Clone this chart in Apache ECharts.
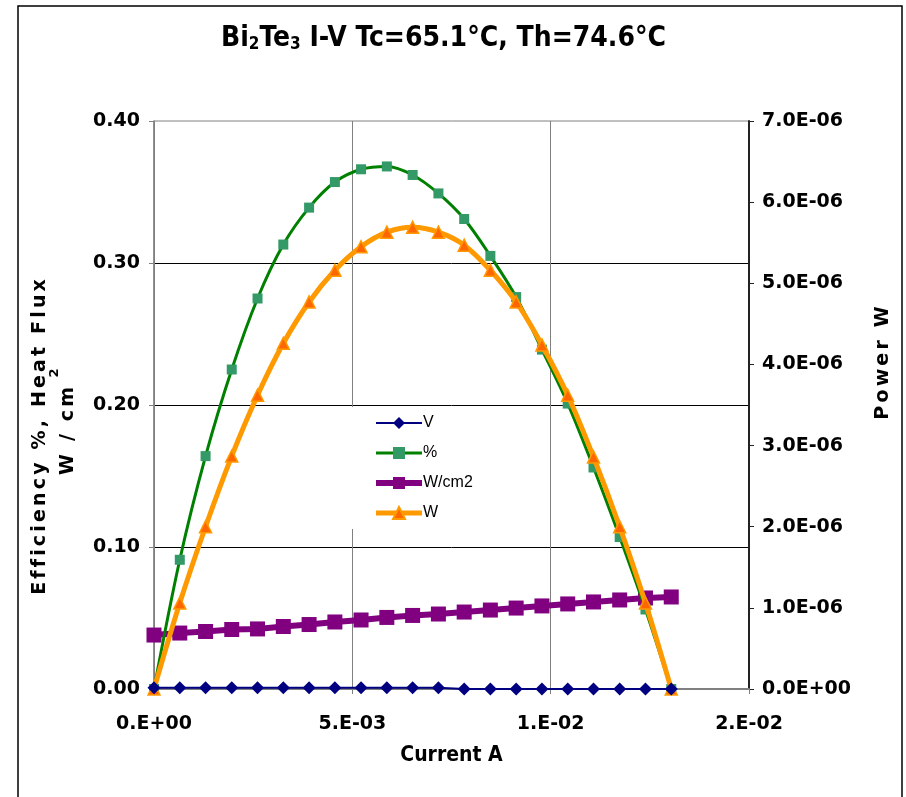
<!DOCTYPE html>
<html>
<head>
<meta charset="utf-8">
<script src="https://cdn.jsdelivr.net/npm/echarts@6/dist/echarts.min.js"></script>
<style>
  html, body { margin: 0; padding: 0; background: #fff; }
  #main { width: 906px; height: 797px; }
</style>
</head>
<body>
<div id="main"></div>
<script>
// current (A) for each measurement
var current = [0, 0.00065, 0.0013, 0.00196, 0.00261, 0.00326, 0.00391, 0.00456, 0.00522, 0.00587, 0.00652,
  0.00717, 0.00782, 0.00848, 0.00913, 0.00978, 0.01043, 0.01108, 0.01174, 0.01239, 0.01304];
var voltage = [0.0009, 0.0009, 0.0009, 0.0009, 0.0009, 0.0009, 0.0009, 0.0009, 0.0009, 0.0009, 0.0009,
  0.0009, 0, 0, 0, 0, 0, 0, 0, 0, 0];
var efficiency = [0, 0.091, 0.164, 0.225, 0.275, 0.313, 0.339, 0.357, 0.366, 0.368, 0.362,
  0.349, 0.331, 0.305, 0.276, 0.239, 0.201, 0.156, 0.107, 0.056, 0];
var heatFlux = [0.038, 0.0394, 0.0405, 0.0419, 0.0423, 0.044, 0.0454, 0.0472, 0.0486, 0.0504, 0.0518,
  0.0528, 0.0542, 0.0556, 0.057, 0.0585, 0.0599, 0.0613, 0.0627, 0.0641, 0.0648];
var power = [0, 1.06e-6, 2.00e-6, 2.87e-6, 3.62e-6, 4.26e-6, 4.77e-6, 5.16e-6, 5.45e-6, 5.63e-6, 5.69e-6,
  5.63e-6, 5.47e-6, 5.16e-6, 4.77e-6, 4.24e-6, 3.62e-6, 2.86e-6, 2.00e-6, 1.06e-6, 0];

var xTicks = ['0.E+00', '5.E-03', '1.E-02', '2.E-02'];
var leftTicks = ['0.00', '0.10', '0.20', '0.30', '0.40'];
var rightTicks = ['0.0E+00', '1.0E-06', '2.0E-06', '3.0E-06', '4.0E-06', '5.0E-06', '6.0E-06', '7.0E-06'];
var seriesNames = ['V', '%', 'W/cm2', 'W'];

var FONT = '"DejaVu Sans", sans-serif';
var CONDENSED = '"DejaVu Sans Condensed", "DejaVu Sans", sans-serif';

function pairs(ys) {
  return current.map(function (x, i) { return [x, ys[i]]; });
}
// Excel style letter spaced axis titles (six-per-em space between letters)
function spaced(s) {
  return s.split('').join('\u2006');
}

var chart = echarts.init(document.getElementById('main'), null, { renderer: 'canvas' });

var option = {
  backgroundColor: '#fff',
  animation: false,
  title: {
    text: '{b|Bi}{s|2}{b|Te}{s|3}{b| I-V Tc=65.1°C, Th=74.6°C}',
    left: 216,
    top: 20,
    textStyle: {
      rich: {
        b: { fontFamily: CONDENSED, fontWeight: 'bold', fontSize: 28, color: '#000' },
        s: { fontFamily: CONDENSED, fontWeight: 'bold', fontSize: 17, color: '#000', verticalAlign: 'bottom', padding: [11, 0, 0, 0] }
      }
    }
  },
  legend: {
    data: [
      { name: 'V', lineStyle: { width: 2 } },
      { name: '%', lineStyle: { width: 3 } },
      { name: 'W/cm2', lineStyle: { width: 6 } },
      { name: 'W', lineStyle: { width: 5 } }
    ],
    orient: 'vertical',
    left: 346,
    top: 407,
    padding: [8, 10, 8, 27],
    itemWidth: 46,
    itemHeight: 15,
    itemGap: 14,
    backgroundColor: '#fff',
    textStyle: { fontFamily: '"Liberation Sans", Arial, sans-serif', fontSize: 16, color: '#000', padding: [0, 0, 0, -4] }
  },
  grid: {
    left: 154, right: 157, top: 121, bottom: 108,
    show: true, borderColor: '#808080', borderWidth: 1
  },
  xAxis: {
    type: 'value',
    min: 0, max: 0.015, interval: 0.005,
    name: 'Current A',
    nameLocation: 'middle',
    nameGap: 56,
    nameTextStyle: { fontFamily: CONDENSED, fontWeight: 'bold', fontSize: 21, color: '#000' },
    axisLine: { lineStyle: { color: '#808080', width: 2 } },
    axisTick: { show: true, length: 5, lineStyle: { color: '#808080' } },
    axisLabel: {
      margin: 26,
      fontFamily: FONT, fontWeight: 'bold', fontSize: 19, color: '#000',
      formatter: function (v) { return xTicks[Math.round(v / 0.005)]; }
    },
    splitLine: { show: true, lineStyle: { color: '#808080', width: 1 } }
  },
  yAxis: [{
    type: 'value',
    min: 0, max: 0.4, interval: 0.1,
    axisLine: { show: true, lineStyle: { color: '#808080', width: 1.5 } },
    axisTick: { show: true, length: 5, lineStyle: { color: '#808080' } },
    axisLabel: {
      margin: 14,
      fontFamily: FONT, fontWeight: 'bold', fontSize: 19, color: '#000',
      formatter: function (v) { return leftTicks[Math.round(v / 0.1)]; }
    },
    splitLine: { show: true, showMaxLine: false, lineStyle: { color: '#000', width: 1 } }
  }, {
    type: 'value',
    min: 0, max: 7e-6, interval: 1e-6,
    position: 'right',
    axisLine: { show: true, lineStyle: { color: '#222', width: 2 } },
    axisTick: { show: true, length: 5, lineStyle: { color: '#222' } },
    axisLabel: {
      margin: 13,
      fontFamily: FONT, fontWeight: 'bold', fontSize: 19, color: '#000',
      formatter: function (v) { return rightTicks[Math.round(v / 1e-6)]; }
    },
    splitLine: { show: false }
  }],
  series: [{
    name: 'V',
    type: 'line',
    data: pairs(voltage),
    symbol: 'diamond',
    symbolSize: 13,
    itemStyle: { color: '#000080' },
    lineStyle: { color: '#000080', width: 2 },
    z: 5
  }, {
    name: '%',
    type: 'line',
    data: pairs(efficiency),
    smooth: 0.35,
    symbol: 'rect',
    symbolSize: 10,
    itemStyle: { color: '#339966' },
    lineStyle: { color: '#008000', width: 3 },
    z: 3
  }, {
    name: 'W/cm2',
    type: 'line',
    data: pairs(heatFlux),
    symbol: 'rect',
    symbolSize: 15,
    itemStyle: { color: '#800080' },
    lineStyle: { color: '#800080', width: 6 },
    z: 2
  }, {
    name: 'W',
    type: 'line',
    yAxisIndex: 1,
    data: pairs(power),
    smooth: 0.35,
    symbol: 'triangle',
    symbolSize: 12,
    itemStyle: { color: '#FF6600', borderColor: '#FF9900', borderWidth: 1.5 },
    lineStyle: { color: '#FF9900', width: 5 },
    z: 4
  }],
  graphic: [{
    type: 'rect',
    shape: { x: 18, y: 6, width: 884, height: 800 },
    style: { fill: 'none', stroke: '#000', lineWidth: 1.5 },
    silent: true
  }, {
    type: 'text',
    x: 40, y: 437,
    rotation: Math.PI / 2,
    style: {
      text: spaced('Efficiency %, Heat Flux'),
      font: 'bold 19px "DejaVu Sans", sans-serif',
      fill: '#000', align: 'center', verticalAlign: 'middle'
    }
  }, {
    type: 'text',
    x: 68, y: 431,
    rotation: Math.PI / 2,
    style: {
      text: spaced('W / cm'),
      font: 'bold 19px "DejaVu Sans", sans-serif',
      fill: '#000', align: 'center', verticalAlign: 'middle'
    }
  }, {
    type: 'text',
    x: 55, y: 373,
    rotation: Math.PI / 2,
    style: {
      text: '2',
      font: 'bold 13px "DejaVu Sans", sans-serif',
      fill: '#000', align: 'center', verticalAlign: 'middle'
    }
  }, {
    type: 'text',
    x: 883, y: 363,
    rotation: Math.PI / 2,
    style: {
      text: spaced('Power W'),
      font: 'bold 19px "DejaVu Sans", sans-serif',
      fill: '#000', align: 'center', verticalAlign: 'middle'
    }
  }]
};

chart.setOption(option);
</script>
</body>
</html>
